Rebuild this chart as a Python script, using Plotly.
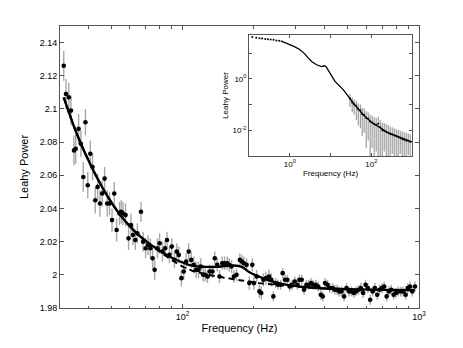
import plotly.graph_objects as go

# main panel: binned Leahy power with errors
freq = [
    31.5, 32.2, 33.1, 33.8, 34.8, 35.4, 36.4, 37.2, 38.1, 38.9,
    39.8, 40.8, 41.7, 42.8, 43.8, 44.8, 45.8, 46.9, 48.1, 49.2,
    50.4, 51.5, 52.7, 54.2, 55.1, 56.1, 57.5, 59.2, 60.6, 61.8,
    63.2, 64.5, 66.8, 68.2, 69.9, 71.6, 73.2, 74.8, 76.3, 78.4,
    80.1, 82.3, 84.5, 86.1, 88.1, 90.1, 92.5, 94.6, 96.5, 99.0,
    101.3, 103.7, 106.3, 108.9, 111.7, 114.3, 116.9, 119.5, 122.4, 124.8,
    127.6, 130.5, 134.0, 137.0, 140.3, 143.5, 147.3, 150.7, 154.7, 157.7,
    161.3, 165.0, 169.4, 174.9, 178.4, 181.9, 186.7, 191.7, 197.4, 200.5,
    205.9, 211.4, 215.5, 219.8, 225.4, 232.1, 237.6, 242.3, 247.8, 253.4,
    260.2, 265.3, 271.3, 277.7, 284.1, 290.5, 298.3, 306.2, 312.2, 319.3,
    326.6, 334.3, 341.9, 349.7, 357.9, 366.1, 375.1, 384.4, 391.9, 400.8,
    410.3, 419.6, 430.9, 440.6, 450.6, 459.5, 470.4, 482.5, 493.9, 506.6,
    518.6, 530.4, 542.4, 555.3, 567.9, 580.7, 594.5, 608.0, 621.8, 636.5,
    651.0, 665.7, 681.5, 697.0, 712.8, 729.7, 746.3, 763.2, 781.2, 799.0,
    817.1, 839.0, 858.0, 878.3, 895.6, 916.0, 936.7, 961.8,
]
power = [
    2.126, 2.109, 2.107, 2.099, 2.075, 2.076, 2.088, 2.079, 2.059, 2.092,
    2.054, 2.073, 2.065, 2.045, 2.053, 2.043, 2.049, 2.058, 2.043, 2.043,
    2.033, 2.049, 2.027, 2.037, 2.038, 2.037, 2.036, 2.022, 2.030, 2.024,
    2.021, 2.025, 2.038, 2.020, 2.016, 2.018, 2.016, 2.010, 2.003, 2.016,
    2.019, 2.014, 2.016, 2.021, 2.012, 2.017, 2.009, 2.014, 2.012, 1.998,
    2.002, 2.008, 2.014, 2.009, 2.006, 2.003, 2.003, 2.005, 2.000, 2.000,
    1.999, 2.002, 2.002, 2.010, 2.006, 1.999, 2.007, 2.007, 2.007, 2.006,
    2.005, 1.999, 2.000, 2.009, 2.008, 2.007, 2.006, 1.995, 2.006, 1.995,
    1.999, 1.990, 1.989, 1.997, 1.998, 1.999, 1.997, 1.987, 1.995, 1.994,
    1.994, 2.001, 1.997, 1.997, 1.993, 1.994, 1.996, 1.994, 1.997, 1.997,
    1.991, 1.994, 1.994, 1.995, 1.994, 1.994, 1.993, 1.988, 1.987, 1.995,
    1.994, 1.992, 1.992, 1.991, 1.991, 1.990, 1.990, 1.987, 1.992, 1.990,
    1.990, 1.989, 1.990, 1.991, 1.992, 1.989, 1.994, 1.992, 1.985, 1.990,
    1.992, 1.988, 1.991, 1.992, 1.993, 1.987, 1.990, 1.991, 1.988, 1.989,
    1.990, 1.990, 1.990, 1.988, 1.992, 1.993, 1.990, 1.993,
]
power_err = [
    0.009, 0.009, 0.009, 0.009, 0.009, 0.009, 0.009, 0.008, 0.009, 0.008,
    0.008, 0.008, 0.008, 0.008, 0.008, 0.008, 0.008, 0.007, 0.008, 0.007,
    0.007, 0.007, 0.007, 0.007, 0.007, 0.007, 0.007, 0.007, 0.007, 0.006,
    0.006, 0.006, 0.006, 0.006, 0.006, 0.006, 0.006, 0.006, 0.006, 0.006,
    0.006, 0.006, 0.005, 0.005, 0.005, 0.005, 0.005, 0.005, 0.005, 0.005,
    0.005, 0.005, 0.005, 0.005, 0.005, 0.005, 0.005, 0.005, 0.004, 0.004,
    0.004, 0.004, 0.004, 0.004, 0.004, 0.004, 0.004, 0.004, 0.004, 0.004,
    0.004, 0.004, 0.004, 0.004, 0.004, 0.004, 0.004, 0.004, 0.004, 0.004,
    0.004, 0.004, 0.004, 0.004, 0.004, 0.004, 0.004, 0.003, 0.003, 0.003,
    0.003, 0.003, 0.003, 0.003, 0.003, 0.003, 0.003, 0.003, 0.003, 0.003,
    0.003, 0.003, 0.003, 0.003, 0.003, 0.003, 0.003, 0.003, 0.003, 0.003,
    0.003, 0.003, 0.003, 0.003, 0.003, 0.003, 0.003, 0.003, 0.003, 0.003,
    0.003, 0.003, 0.003, 0.003, 0.003, 0.003, 0.003, 0.003, 0.003, 0.003,
    0.003, 0.003, 0.003, 0.003, 0.003, 0.003, 0.003, 0.003, 0.003, 0.003,
    0.003, 0.003, 0.003, 0.003, 0.003, 0.003, 0.003, 0.003,
]

# model curves (with QPO = solid, without = dashed)
model_freq = [31.5, 36, 41, 47, 54, 63, 72, 81, 91, 100, 110, 125, 140, 155,
              170, 180, 192, 210, 230, 270, 330, 400, 550, 960]
model_full = [2.107, 2.084, 2.066, 2.050, 2.037, 2.026, 2.019, 2.0142, 2.010,
              2.0075, 2.0055, 2.0048, 2.0048, 2.0055, 2.0055, 2.0045, 2.0015,
              1.9990, 1.9968, 1.9942, 1.9926, 1.9918, 1.9912, 1.9908]
model_cont = [2.107, 2.084, 2.066, 2.050, 2.037, 2.026, 2.019, 2.0135, 2.0085,
              2.005, 2.0025, 2.0005, 1.999, 1.998, 1.997, 1.9965, 1.996, 1.995,
              1.9945, 1.9935, 1.9925, 1.9917, 1.9911, 1.9907]

# inset: full-band spectrum
inset_dot_freq = [0.12, 0.15, 0.18, 0.21, 0.25, 0.29, 0.34, 0.40, 0.47, 0.55]
inset_dot_pow = [42, 39, 37.5, 36.5, 35.5, 34.5, 33.5, 32.5, 31, 30]
inset_freq = [0.6, 0.8, 1.0, 1.3, 1.76, 2.3, 2.83, 3.5, 4.55, 5.3, 6.06, 7.0,
              7.75, 9.7, 12.9, 20.7, 36.7, 64.4, 100, 243, 519, 1000]
inset_pow = [29.5, 25.1, 21.4, 17.8, 13.8, 9.5, 6.5, 4.6, 3.5, 3.3, 3.0, 3.2,
             3.0, 1.66, 0.79, 0.37, 0.112, 0.039, 0.021, 0.0085, 0.0051, 0.0035]
noise_freq = [30, 34, 38, 43, 48, 54, 60, 67, 75, 84, 94, 105, 118, 132, 148,
              166, 186, 208, 233, 261, 292, 327, 366, 410, 459, 514, 575, 644,
              721, 807, 903]
noise_pow = [0.17, 0.12, 0.10, 0.085, 0.065, 0.058, 0.042, 0.040, 0.030, 0.028,
             0.022, 0.020, 0.017, 0.016, 0.018, 0.013, 0.010, 0.0095, 0.0085,
             0.008, 0.0072, 0.0068, 0.0062, 0.0058, 0.0055, 0.005, 0.0046,
             0.0043, 0.004, 0.0038, 0.0036]
noise_lo = [0.08, 0.05, 0.04, 0.025, 0.015, 0.012, 0.006, 0.008, 0.002, 0.004,
            0.0008, 0.002, 0.0008, 0.0015, 0.0008, 0.0008, 0.0008, 0.0015,
            0.0008, 0.0008, 0.0008, 0.0012, 0.0008, 0.0008, 0.0008, 0.0012,
            0.0008, 0.0008, 0.0008, 0.0011, 0.0008]
noise_hi = [0.25, 0.19, 0.16, 0.14, 0.11, 0.10, 0.075, 0.07, 0.055, 0.05, 0.04,
            0.037, 0.032, 0.03, 0.034, 0.025, 0.02, 0.019, 0.017, 0.016, 0.014,
            0.013, 0.012, 0.011, 0.0105, 0.0095, 0.009, 0.0085, 0.008, 0.0075,
            0.007]

y_ticks = [1.98, 2.0, 2.02, 2.04, 2.06, 2.08, 2.1, 2.12, 2.14]
y_labels = ["1.98", "2", "2.02", "2.04", "2.06", "2.08", "2.1", "2.12", "2.14"]
x_ticks = [100, 1000]
x_labels = ["10<sup>2</sup>", "10<sup>3</sup>"]
x_minor = [40, 50, 60, 70, 80, 90, 200, 300, 400, 500, 600, 700, 800, 900]
inset_x_ticks = [1, 100]
inset_x_labels = ["10<sup>0</sup>", "10<sup>2</sup>"]
inset_x_minor = [0.1, 10, 1000]
inset_y_ticks = [0.01, 1]
inset_y_labels = ["10<sup>-2</sup>", "10<sup>0</sup>"]
inset_y_minor = [0.001, 0.1, 10]

FONT = "Liberation Sans, Arial, Helvetica, sans-serif"
AXC = "#555555"

fig = go.Figure()

fig.add_trace(go.Scatter(
    x=freq, y=power, mode="markers",
    marker=dict(color="black", size=4.6),
    error_y=dict(type="data", array=power_err, color="#a8a8a8",
                 thickness=1.4, width=0),
    xaxis="x", yaxis="y", showlegend=False,
))
fig.add_trace(go.Scatter(
    x=model_freq, y=model_cont, mode="lines", line_shape="spline",
    line=dict(color="black", width=2, dash="6px,4px"),
    xaxis="x", yaxis="y", showlegend=False,
))
fig.add_trace(go.Scatter(
    x=model_freq, y=model_full, mode="lines", line_shape="spline",
    line=dict(color="black", width=2.4),
    xaxis="x", yaxis="y", showlegend=False,
))

# inset traces
fig.add_trace(go.Scatter(
    x=noise_freq, y=noise_pow, mode="markers",
    marker=dict(color="black", size=2),
    error_y=dict(type="data",
                 array=[h - p for h, p in zip(noise_hi, noise_pow)],
                 arrayminus=[p - l for p, l in zip(noise_pow, noise_lo)],
                 color="#8a8a8a", thickness=1, width=0),
    xaxis="x2", yaxis="y2", showlegend=False,
))
fig.add_trace(go.Scatter(
    x=inset_dot_freq, y=inset_dot_pow, mode="markers",
    marker=dict(color="black", size=2),
    xaxis="x2", yaxis="y2", showlegend=False,
))
fig.add_trace(go.Scatter(
    x=inset_freq, y=inset_pow, mode="lines",
    line=dict(color="black", width=1.3),
    xaxis="x2", yaxis="y2", showlegend=False,
))

common = dict(showline=True, linecolor=AXC, linewidth=1, mirror="ticks",
              ticks="inside", tickcolor=AXC, showgrid=False, zeroline=False)

# page body has an 8px margin, so the figure is shrunk by that amount
fig.update_layout(
    width=455, height=340,
    margin=dict(l=52, r=44, t=18, b=40),
    paper_bgcolor="white", plot_bgcolor="white",
    font=dict(family=FONT, size=9, color="black"),
    xaxis=dict(
        type="log", range=[1.4825, 3.0], domain=[0, 1], anchor="y",
        tickvals=x_ticks, ticktext=x_labels, ticklen=4,
        minor=dict(ticks="inside", tickvals=x_minor, ticklen=2.5,
                   tickcolor=AXC),
        title=dict(text="Frequency (Hz)", font=dict(size=11), standoff=3),
        **common,
    ),
    yaxis=dict(
        range=[1.98, 2.15], domain=[0, 1], anchor="x",
        tickvals=y_ticks, ticktext=y_labels, ticklen=4,
        title=dict(text="Leahy Power", font=dict(size=11), standoff=8),
        **common,
    ),
    xaxis2=dict(
        type="log", range=[-1, 3], domain=[0.5265, 0.9805], anchor="y2",
        tickvals=inset_x_ticks, ticktext=inset_x_labels,
        minor=dict(ticks="inside", tickvals=inset_x_minor, ticklen=3,
                   tickcolor=AXC),
        ticklen=3, tickfont=dict(size=8),
        title=dict(text="Frequency (Hz)", font=dict(size=8), standoff=2),
        **common,
    ),
    yaxis2=dict(
        type="log", range=[-3, 1.7], domain=[0.539, 0.968], anchor="x2",
        tickvals=inset_y_ticks, ticktext=inset_y_labels,
        minor=dict(ticks="inside", tickvals=inset_y_minor, ticklen=3,
                   tickcolor=AXC),
        ticklen=3, tickfont=dict(size=8),
        title=dict(text="Leahy Power", font=dict(size=8), standoff=2),
        **common,
    ),
)

fig.write_html("out.html")
